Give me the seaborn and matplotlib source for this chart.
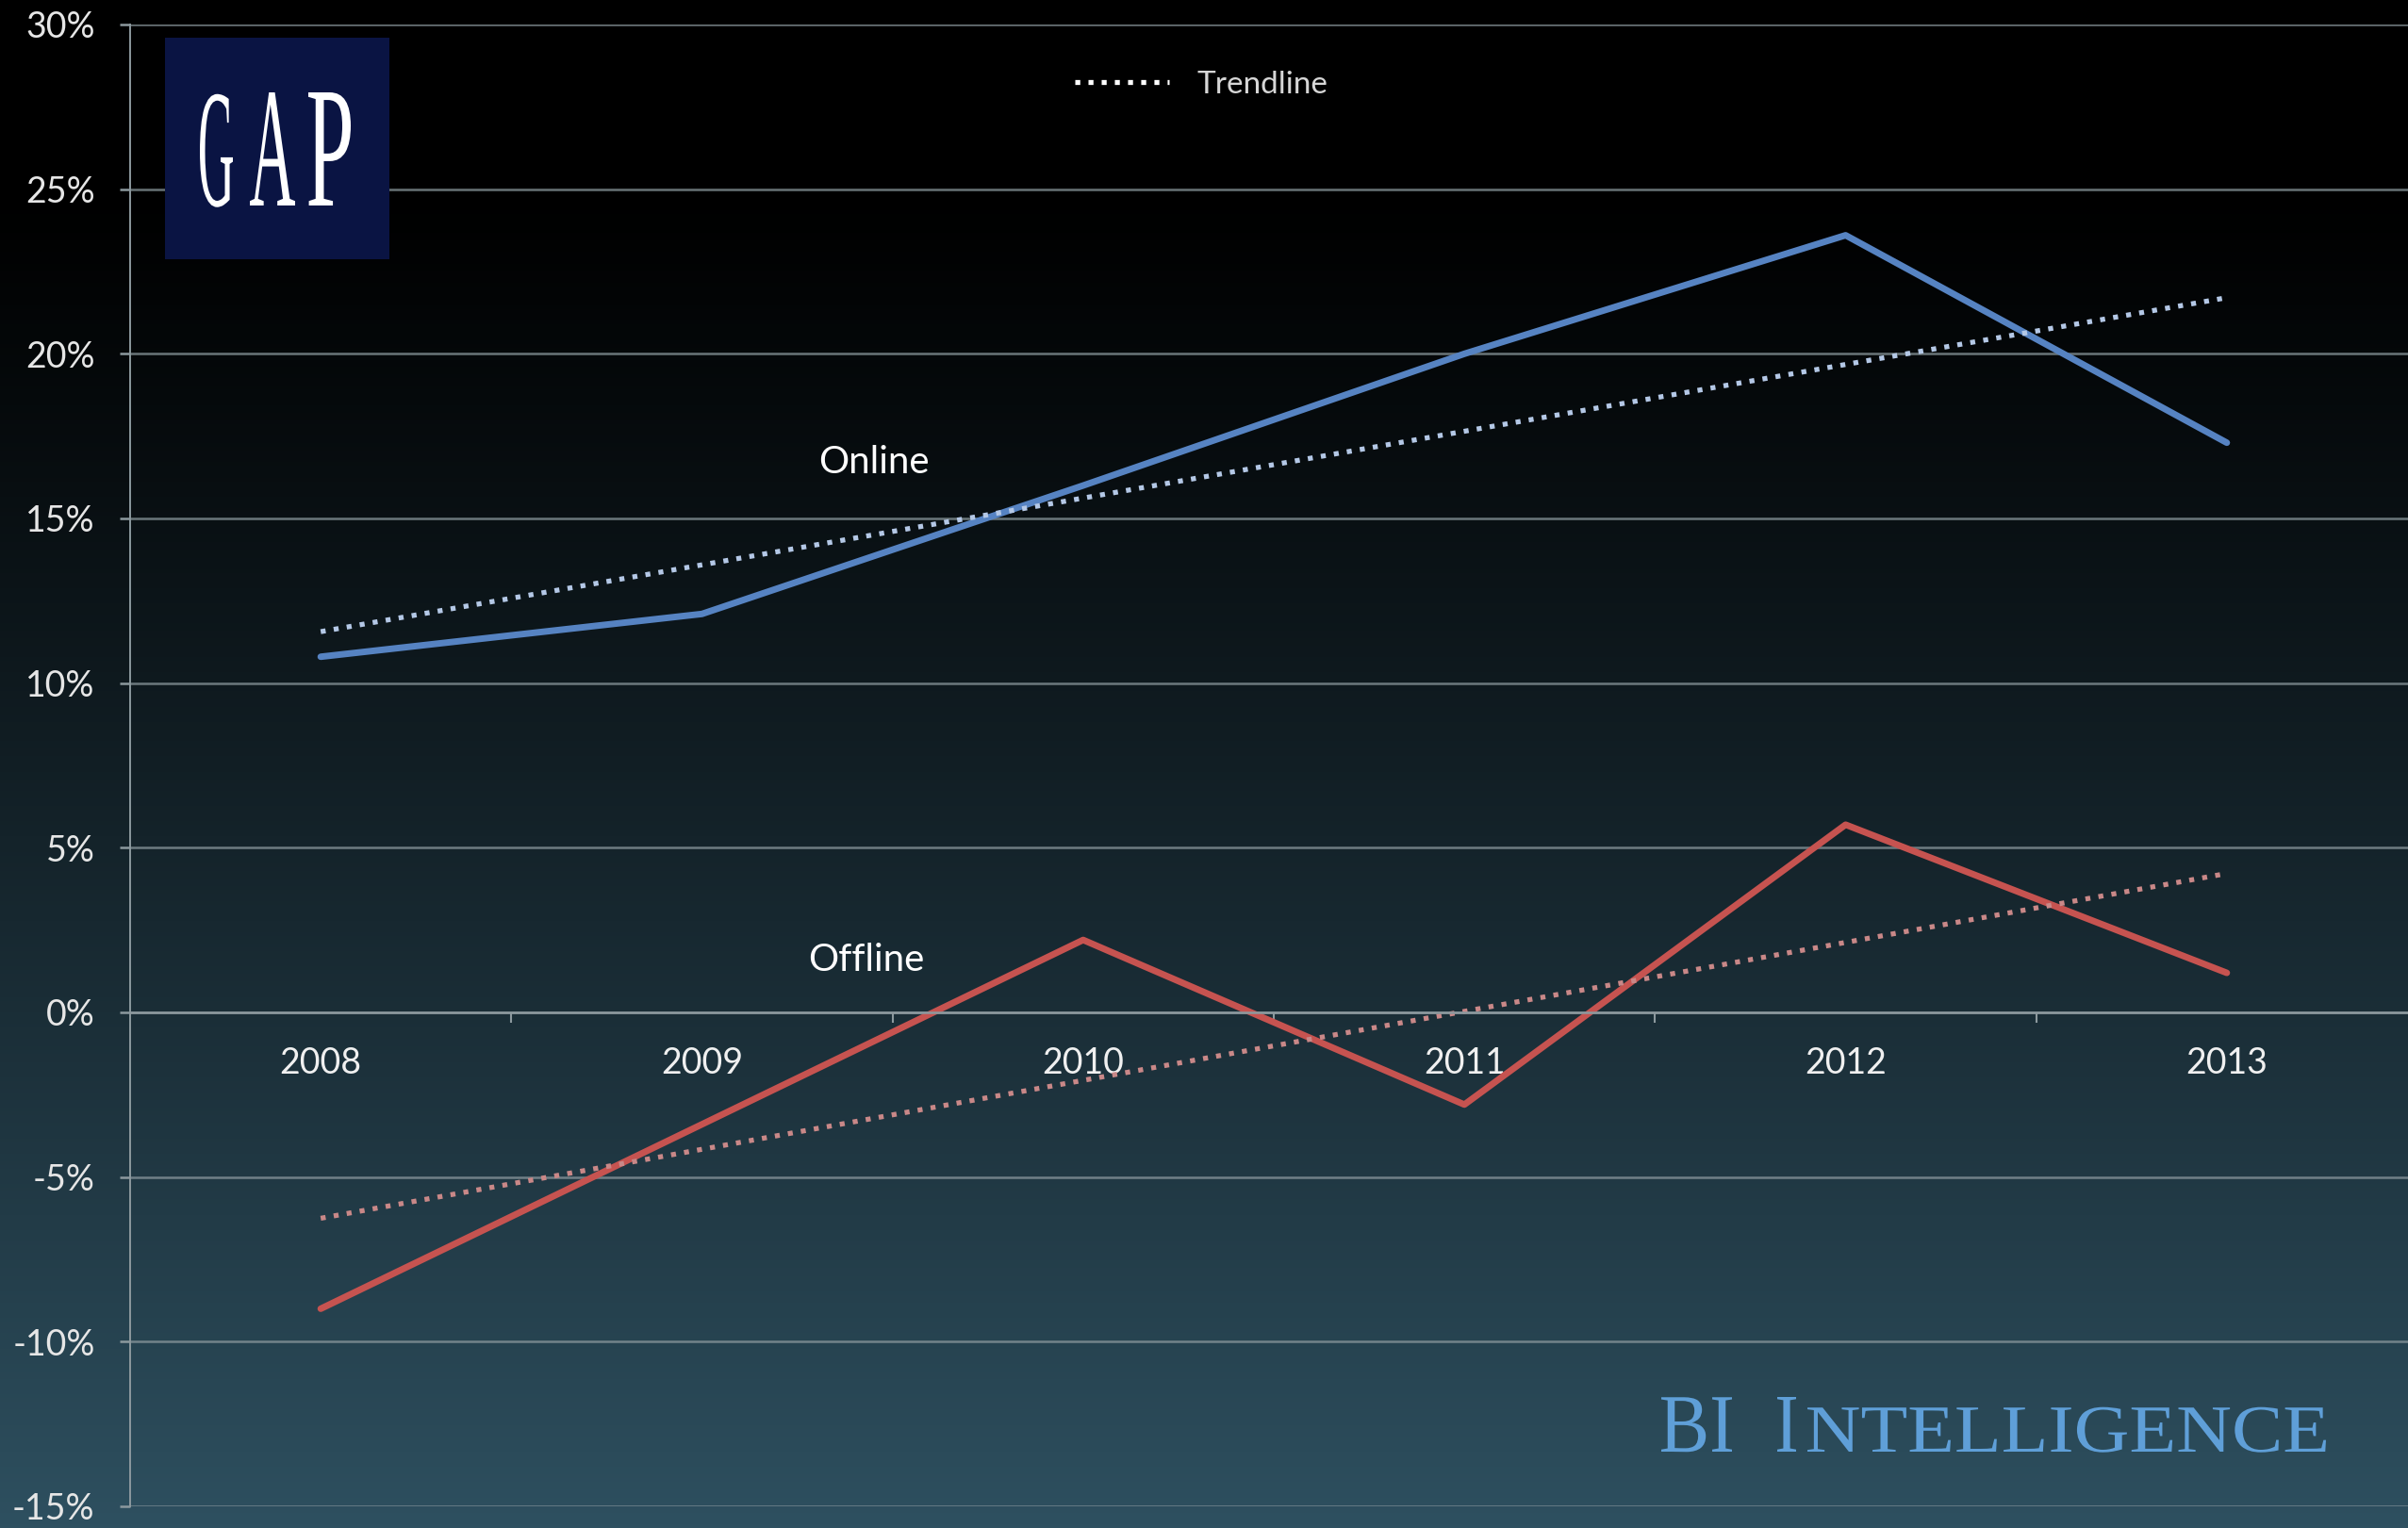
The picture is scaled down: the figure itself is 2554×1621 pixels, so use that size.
import numpy as np
import pandas as pd
import matplotlib.pyplot as plt
import seaborn as sns
from matplotlib.lines import Line2D
from matplotlib.patches import Rectangle, PathPatch
from matplotlib.textpath import TextPath
from matplotlib.font_manager import FontProperties
from matplotlib.transforms import Affine2D

years = ["2008", "2009", "2010", "2011", "2012", "2013"]
online = [10.8, 12.1, 16.0, 20.0, 23.6, 17.3]
offline = [-9.0, -3.4, 2.2, -2.8, 5.7, 1.2]
y_ticks = [-15, -10, -5, 0, 5, 10, 15, 20, 25, 30]

df = pd.DataFrame({"idx": range(len(years)), "year": years,
                   "online": online, "offline": offline})

sns.set_style("dark")
plt.rcParams["font.family"] = ["Lato", "DejaVu Sans"]

W, H = 2554, 1621
fig = plt.figure(figsize=(W / 100, H / 100), dpi=100)

# gradient background: black at top -> dark teal at bottom
bg = fig.add_axes([0, 0, 1, 1], zorder=0)
t = np.linspace(0, 1, 400)[:, None]
bottom = np.array([46, 80, 96]) / 255.0
prof = np.clip((t - 0.12) / 0.88, 0, 1) ** 1.15
grad = prof[..., None] * bottom
grad = np.repeat(grad, 2, axis=1)
bg.imshow(grad, aspect="auto", extent=[0, 1, 0, 1], origin="upper")
bg.set_axis_off()

ax = fig.add_axes([138 / W, 1 - 1598 / H, (W - 138 + 10) / W, (1598 - 26) / H], zorder=1)
ax.set_facecolor("none")

blue = "#5683c2"
red = "#c65350"
sns.lineplot(data=df, x="idx", y="online", color=blue, lw=5, ax=ax)
sns.lineplot(data=df, x="idx", y="offline", color=red, lw=5, ax=ax)
sns.regplot(data=df, x="idx", y="online", ci=None, scatter=False, ax=ax,
            line_kws=dict(color="#b4c8e6", lw=3.8, ls=":"))
sns.regplot(data=df, x="idx", y="offline", ci=None, scatter=False, ax=ax,
            line_kws=dict(color="#c98888", lw=3.8, ls=":"))

ax.set_xlim(-0.5, 5.5)
ax.set_ylim(-15, 30)
ax.set_yticks(y_ticks)
ax.set_yticklabels([f"{v}%" for v in y_ticks])
ax.set_xticks(range(len(years)))
ax.set_xticklabels(years)
ax.set_xticks([i + 0.5 for i in range(len(years) - 1)], minor=True)
ax.set_xlabel("")
ax.set_ylabel("")

gcol = (0.55, 0.6, 0.62)
ax.grid(axis="y", color=gcol, lw=1.8, alpha=0.75)
ax.grid(axis="x", visible=False)
ax.spines["bottom"].set_position(("data", 0))
ax.spines["bottom"].set_color(gcol)
ax.spines["bottom"].set_linewidth(1.8)
ax.spines["left"].set_color(gcol)
ax.spines["left"].set_linewidth(1.4)
ax.spines["top"].set_visible(False)
ax.spines["right"].set_visible(False)

ax.tick_params(axis="y", colors=gcol, labelcolor="#e6e6e6", labelsize=27,
               length=8, width=1.8, left=True, pad=19)
ax.tick_params(axis="x", which="major", length=0, labelcolor="#f0f0f0",
               labelsize=27, pad=26)
ax.tick_params(axis="x", which="minor", length=8, width=1.5, color=gcol,
               bottom=True, direction="out")

ax.text(1.45, 16.7, "Online", color="white", fontsize=29, ha="center", va="center")
ax.text(1.43, 1.6, "Offline", color="white", fontsize=29, ha="center", va="center")

handle = Line2D([], [], color="white", lw=3.8, ls=":")
fig.legend([handle], ["Trendline"], loc="center left", frameon=False,
           bbox_to_anchor=(1140 / W, 1 - 90 / H), fontsize=24, labelcolor="#d6d6d6",
           handlelength=3.0, handletextpad=0.9, borderpad=0, borderaxespad=0)

# overlay in pixel coordinates for logo and watermark
ov = fig.add_axes([0, 0, 1, 1], zorder=2)
ov.set_xlim(0, W)
ov.set_ylim(H, 0)
ov.set_axis_off()
ov.patch.set_alpha(0)


def put_text(s, x0, x1, ybase, height, color, family):
    tp = TextPath((0, 0), s, size=100, prop=FontProperties(family=family))
    ext = tp.get_extents()
    tr = (Affine2D().translate(-ext.x0, 0)
          .scale((x1 - x0) / ext.width, -height / ext.height)
          .translate(x0, ybase))
    ov.add_patch(PathPatch(tr.transform_path(tp), color=color, lw=0))


ov.add_patch(Rectangle((175, 40), 238, 235, color="#0a1443", lw=0))
put_text("G", 212, 247, 218, 120, "white", "Liberation Serif")
put_text("A", 265, 313, 218, 120, "white", "Liberation Serif")
put_text("P", 327, 372, 218, 120, "white", "Liberation Serif")

wm = "#5f9fd8"
put_text("BI", 1762, 1837, 1540, 58, wm, "Liberation Serif")
put_text("I", 1885, 1905, 1540, 58, wm, "Liberation Serif")
put_text("NTELLIGENCE", 1917, 2467, 1540, 48, wm, "Liberation Serif")

fig.savefig("out.png", dpi=100)
